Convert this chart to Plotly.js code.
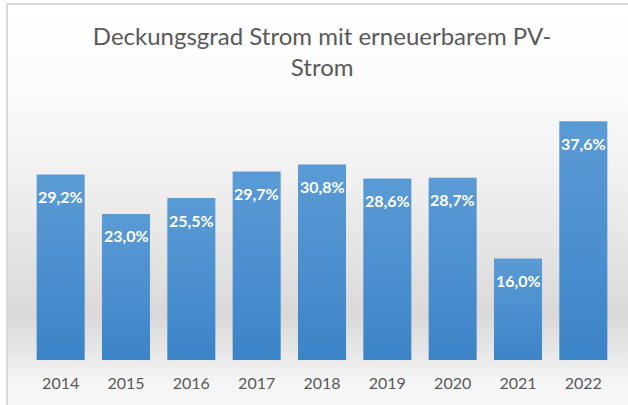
<!DOCTYPE html>
<html>
<head>
<meta charset="utf-8">
<script src="https://cdn.plot.ly/plotly-3.0.1.min.js"></script>
<style>
  html, body { margin: 0; padding: 0; background: #ffffff; }
  #wrap { position: absolute; left: 0; top: 0; width: 628px; height: 405px; overflow: hidden; }
  #bg { position: absolute; left: 6px; top: 3px; width: 640px; height: 420px;
        border-left: 2px solid #d9d9d9; border-top: 2px solid #d9d9d9;
        background: linear-gradient(to bottom, #ffffff 0%, #fbfbfb 20%, #f1f1f1 40%, #e3e3e3 60%, #d9d9d9 74%, #e6e6e6 82%, #f6f6f6 90%, #f8f8f8 100%); }
  #chart { position: absolute; left: 0; top: 0; width: 628px; height: 405px; }
</style>
</head>
<body>
<div id="wrap">
  <div id="bg"></div>
  <div id="chart"></div>
</div>
<script>
const years = ['2014', '2015', '2016', '2017', '2018', '2019', '2020', '2021', '2022'];
const coverage = [29.2, 23.0, 25.5, 29.7, 30.8, 28.6, 28.7, 16.0, 37.6];
const labels = ['29,2%', '23,0%', '25,5%', '29,7%', '30,8%', '28,6%', '28,7%', '16,0%', '37,6%'];
const titleText = 'Deckungsgrad Strom mit erneuerbarem PV-<br>Strom';

const trace = {
  type: 'bar',
  x: years,
  y: coverage,
  marker: { color: '#4f93d3', line: { width: 0 } },
  hoverinfo: 'skip'
};

const annotations = years.map((yr, i) => ({
  x: i, y: coverage[i], xref: 'x', yref: 'y',
  text: '<b>' + labels[i] + '</b>',
  showarrow: false, yshift: -22,
  font: { family: 'Lato, sans-serif', size: 16, color: '#ffffff' }
}));

const layout = {
  width: 628, height: 405,
  paper_bgcolor: 'rgba(0,0,0,0)',
  plot_bgcolor: 'rgba(0,0,0,0)',
  margin: { l: 28, r: 12, t: 106, b: 45 },
  bargap: 0.265,
  showlegend: false,
  title: {
    text: titleText,
    x: 0.513, xanchor: 'center', y: 0.89, yanchor: 'top',
    font: { family: 'Lato, sans-serif', size: 24, color: '#595959' }
  },
  xaxis: {
    type: 'category',
    categoryorder: 'array', categoryarray: years,
    range: [-0.5, years.length - 0.5],
    showgrid: false, zeroline: false, showline: false, ticks: '',
    tickfont: { family: 'Lato, sans-serif', size: 16, color: '#595959' },
    ticklabelstandoff: 12
  },
  yaxis: {
    range: [0, 40], visible: false, showgrid: false, zeroline: false
  },
  annotations: annotations
};

Plotly.newPlot('chart', [trace], layout, { displayModeBar: false, staticPlot: true }).then(gd => {
  const svg = gd.querySelector('svg.main-svg');
  const ns = 'http://www.w3.org/2000/svg';
  let defs = svg.querySelector('defs');
  if (!defs) { defs = document.createElementNS(ns, 'defs'); svg.insertBefore(defs, svg.firstChild); }
  const grad = document.createElementNS(ns, 'linearGradient');
  grad.setAttribute('id', 'barGrad');
  grad.setAttribute('x1', '0'); grad.setAttribute('y1', '0');
  grad.setAttribute('x2', '0'); grad.setAttribute('y2', '1');
  [['0', '#5b9bd5'], ['1', '#3c84c8']].forEach(([o, c]) => {
    const s = document.createElementNS(ns, 'stop');
    s.setAttribute('offset', o); s.setAttribute('stop-color', c);
    grad.appendChild(s);
  });
  defs.appendChild(grad);
  gd.querySelectorAll('.barlayer .point path').forEach(p => {
    p.style.fill = 'url(#barGrad)';
  });
});
</script>
</body>
</html>
